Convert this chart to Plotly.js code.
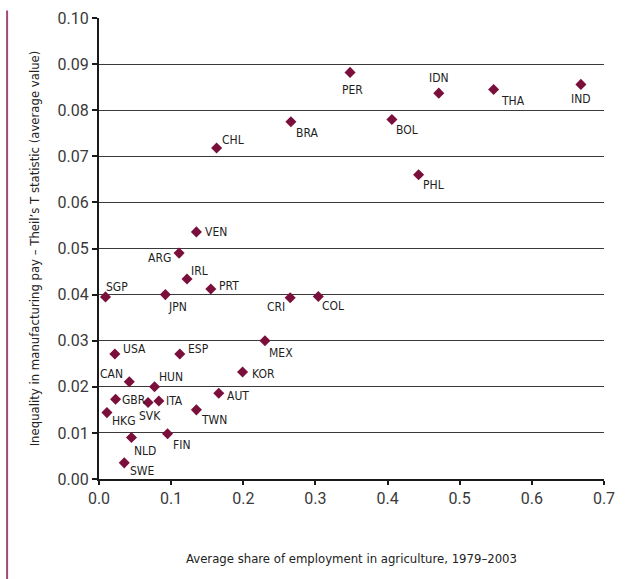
<!DOCTYPE html>
<html>
<head>
<meta charset="utf-8">
<script src="https://cdn.plot.ly/plotly-3.0.1.min.js"></script>
<style>
  html, body { margin: 0; padding: 0; background: #fff; }
  #chart { width: 629px; height: 579px; }
</style>
</head>
<body>
<div id="chart"></div>
<script>
// ---- data ----
const countries = ["SGP","JPN","ARG","IRL","VEN","PRT","CRI","COL","CHL","BRA","PER","BOL","IDN","THA","IND","PHL",
                   "USA","ESP","MEX","KOR","CAN","HUN","AUT","GBR","SVK","ITA","HKG","TWN","FIN","NLD","SWE"];
const agriShare = [0.009,0.092,0.111,0.122,0.135,0.155,0.265,0.304,0.163,0.266,0.348,0.406,0.471,0.547,0.668,0.443,
                   0.022,0.112,0.230,0.199,0.042,0.077,0.166,0.023,0.068,0.083,0.011,0.135,0.095,0.045,0.035];
const theilT    = [0.0395,0.0400,0.0490,0.0434,0.0536,0.0412,0.0393,0.0396,0.0718,0.0775,0.0882,0.0780,0.0837,0.0845,0.0856,0.0660,
                   0.0271,0.0271,0.0300,0.0232,0.0211,0.0200,0.0186,0.0173,0.0166,0.0169,0.0144,0.0150,0.0098,0.0090,0.0035];
const xTickVals = [0,0.1,0.2,0.3,0.4,0.5,0.6,0.7];
const xTickText = ["0.0","0.1","0.2","0.3","0.4","0.5","0.6","0.7"];
const yTickVals = [0,0.01,0.02,0.03,0.04,0.05,0.06,0.07,0.08,0.09,0.10];
const yTickText = ["0.00","0.01","0.02","0.03","0.04","0.05","0.06","0.07","0.08","0.09","0.10"];
const xTitle = "Average share of employment in agriculture, 1979–2003";
const yTitle = "Inequality in manufacturing pay – Theil’s T statistic (average value)";

// ---- label placement (style only): [xanchor, xshift px, yshift px] ----
const labelPlace = {
  SGP:["left",0,10], JPN:["left",2,-12], ARG:["right",-7,-5], IRL:["left",3,8], VEN:["left",8,0],
  PRT:["left",7,3], CRI:["right",-4,-9], COL:["left",3,-10], CHL:["left",4,8], BRA:["left",4,-11],
  PER:["center",2,-18], BOL:["left",3,-11], IDN:["center",0,15], THA:["left",6,-12], IND:["center",0,-15],
  PHL:["left",3,-10], USA:["left",7,5], ESP:["left",7,5], MEX:["left",3,-12], KOR:["left",8,-2],
  CAN:["right",-5,8], HUN:["left",3,10], AUT:["left",7,-3], GBR:["left",5,-1], SVK:["center",2,-14],
  ITA:["left",6,0], HKG:["left",4,-8], TWN:["left",4,-10], FIN:["left",4,-11], NLD:["left",2,-13], SWE:["left",5,-8]
};

const labelFont = {family:"Liberation Sans Narrow, DejaVu Sans Condensed, Arial Narrow, sans-serif", size:12, color:"#1e1e1e"};

const annotations = countries.map((c,i) => {
  const p = labelPlace[c];
  return {x: agriShare[i], y: theilT[i], xref:"x", yref:"y", text: c, showarrow:false,
          xanchor: p[0], yanchor:"middle", xshift: p[1], yshift: p[2], font: labelFont, borderpad:0};
});

const trace = {
  type:"scatter", mode:"markers", x: agriShare, y: theilT, text: countries,
  marker:{symbol:"diamond", size:8.5, color:"#7a0f3c", line:{width:0}},
  hoverinfo:"text+x+y", cliponaxis:false
};

const layout = {
  width:629, height:579,
  margin:{l:99, r:25, t:18, b:100},
  paper_bgcolor:"#fff", plot_bgcolor:"#fff",
  showlegend:false,
  font:{family:"Roboto, DejaVu Sans, sans-serif", color:"#333"},
  xaxis:{
    range:[0,0.7], tickvals:xTickVals, ticktext:xTickText,
    showline:true, linecolor:"#1a1a1a", linewidth:2,
    ticks:"outside", ticklen:4, tickwidth:2, tickcolor:"#1a1a1a",
    showgrid:false, zeroline:false,
    tickfont:{family:"Roboto, DejaVu Sans, sans-serif", size:16, color:"#3a3a3a"},
    title:{text:xTitle, standoff:47, font:{family:"Liberation Sans Narrow, DejaVu Sans Condensed, sans-serif", size:13, color:"#222"}}
  },
  yaxis:{
    range:[0,0.1], tickvals:yTickVals, ticktext:yTickText,
    showline:true, linecolor:"#1a1a1a", linewidth:2,
    ticks:"outside", ticklen:5, tickwidth:2, tickcolor:"#1a1a1a",
    showgrid:true, gridcolor:"#3a3a3a", gridwidth:1, zeroline:false,
    tickfont:{family:"Roboto, DejaVu Sans, sans-serif", size:16, color:"#3a3a3a"},
    title:{text:yTitle, standoff:15, font:{family:"Liberation Sans Narrow, DejaVu Sans Condensed, sans-serif", size:13, color:"#222"}}
  },
  annotations: annotations,
  shapes:[{type:"line", xref:"paper", yref:"paper", x0:-0.182, x1:-0.182, y0:1.016, y1:-0.22,
           line:{color:"#a3487a", width:2}}]
};

Plotly.newPlot("chart", [trace], layout, {staticPlot:true, displayModeBar:false});
</script>
</body>
</html>
